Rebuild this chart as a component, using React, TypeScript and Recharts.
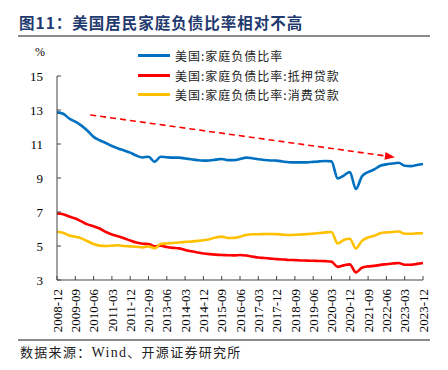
import React from 'react';
import { LineChart, Line, XAxis, YAxis, ReferenceLine } from 'recharts';

// quarterly, 2008-12 .. 2023-12
const dates = [
  '2008-12',
  '2009-03', '2009-06', '2009-09', '2009-12',
  '2010-03', '2010-06', '2010-09', '2010-12',
  '2011-03', '2011-06', '2011-09', '2011-12',
  '2012-03', '2012-06', '2012-09', '2012-12',
  '2013-03', '2013-06', '2013-09', '2013-12',
  '2014-03', '2014-06', '2014-09', '2014-12',
  '2015-03', '2015-06', '2015-09', '2015-12',
  '2016-03', '2016-06', '2016-09', '2016-12',
  '2017-03', '2017-06', '2017-09', '2017-12',
  '2018-03', '2018-06', '2018-09', '2018-12',
  '2019-03', '2019-06', '2019-09', '2019-12',
  '2020-03', '2020-06', '2020-09', '2020-12',
  '2021-03', '2021-06', '2021-09', '2021-12',
  '2022-03', '2022-06', '2022-09', '2022-12',
  '2023-03', '2023-06', '2023-09', '2023-12',
];

const debtRatio = [
  12.86, 12.78, 12.5, 12.31, 12.08, 11.78, 11.42, 11.22, 11.06, 10.88,
  10.74, 10.62, 10.49, 10.32, 10.21, 10.25, 9.95, 10.25, 10.22, 10.2,
  10.2, 10.15, 10.1, 10.05, 10.02, 10.03, 10.08, 10.12, 10.05, 10.05,
  10.12, 10.2, 10.16, 10.1, 10.06, 10.03, 10.02, 9.97, 9.93, 9.92,
  9.92, 9.92, 9.95, 9.98, 10.0, 9.98, 8.97, 9.14, 9.35, 8.35,
  9.1, 9.35, 9.5, 9.72, 9.8, 9.85, 9.9, 9.72, 9.7, 9.76, 9.82,
];

const mortgageRatio = [
  6.92, 6.87, 6.73, 6.62, 6.45, 6.27, 6.16, 6.03, 5.83, 5.68,
  5.58, 5.46, 5.32, 5.2, 5.13, 5.12, 4.98, 5.02, 4.94, 4.89,
  4.86, 4.77, 4.69, 4.62, 4.56, 4.52, 4.49, 4.47, 4.46, 4.45,
  4.47, 4.44, 4.38, 4.32, 4.29, 4.26, 4.23, 4.21, 4.18, 4.17,
  4.15, 4.14, 4.13, 4.12, 4.11, 4.08, 3.77, 3.86, 3.92, 3.45,
  3.72, 3.8, 3.83, 3.89, 3.93, 3.97, 4.0, 3.9, 3.9, 3.95, 4.0,
];

const consumerRatio = [
  5.84, 5.78, 5.62, 5.55, 5.45, 5.28, 5.12, 5.02, 5.0, 5.02,
  5.04, 5.0, 4.98, 4.96, 4.92, 4.98, 4.87, 5.12, 5.15, 5.18,
  5.21, 5.24, 5.26, 5.3, 5.34, 5.4, 5.5, 5.55, 5.47, 5.48,
  5.55, 5.65, 5.69, 5.69, 5.7, 5.71, 5.7, 5.67, 5.65, 5.66,
  5.68, 5.7, 5.73, 5.76, 5.8, 5.82, 5.15, 5.35, 5.43, 4.85,
  5.3, 5.5, 5.6, 5.75, 5.8, 5.82, 5.85, 5.72, 5.72, 5.74, 5.75,
];

const yTicks = [3, 5, 7, 9, 11, 13, 15];

// dashed trend arrow, in data units (quarter index, %)
const trendStart = { i: 5.45, v: 12.71 };
const trendEnd = { i: 55.4, v: 10.22 };

const SERIES = [
  { key: 'debt', name: '美国:家庭负债比率', color: '#0070C0' },
  { key: 'mortgage', name: '美国:家庭负债比率:抵押贷款', color: '#FF0000' },
  { key: 'consumer', name: '美国:家庭负债比率:消费贷款', color: '#FFC000' },
];

const data = dates.map((d, i) => ({
  i,
  date: d,
  debt: debtRatio[i],
  mortgage: mortgageRatio[i],
  consumer: consumerRatio[i],
}));

const xTicks = dates.map((_, i) => i).filter((i) => i % 3 === 0);

const SERIF = '"Liberation Serif", "Times New Roman", serif';
const CJK = '"Noto Sans CJK SC", sans-serif';

function XTick({ x, y, payload }: any) {
  const ty = y + 9;
  return (
    <g>
      <line x1={x} y1={y} x2={x} y2={y - 4} stroke="#444" />
      <text
        x={x}
        y={ty}
        dy="0.36em"
        transform={`rotate(-90 ${x} ${ty})`}
        textAnchor="end"
        fontFamily={SERIF}
        fontSize={13}
        fill="#000"
      >
        {dates[payload.value]}
      </text>
    </g>
  );
}

function YTick({ x, y, payload }: any) {
  return (
    <g>
      <line x1={x} y1={y} x2={x + 4} y2={y} stroke="#444" />
      <text x={x - 14} y={y} dy="0.36em" textAnchor="end" fontFamily={SERIF} fontSize={13} fill="#000">
        {payload.value}
      </text>
    </g>
  );
}

function TrendArrow({ x1, y1, x2, y2 }: any) {
  const dx = x2 - x1;
  const dy = y2 - y1;
  const len = Math.sqrt(dx * dx + dy * dy);
  const ux = dx / len;
  const uy = dy / len;
  const head = 10;
  const half = 4;
  const bx = x2 - ux * head;
  const by = y2 - uy * head;
  const pts = `${x2},${y2} ${bx - uy * half},${by + ux * half} ${bx + uy * half},${by - ux * half}`;
  return (
    <g>
      <line x1={x1} y1={y1} x2={bx} y2={by} stroke="#FF0000" strokeWidth={1.6} strokeDasharray="6 4" />
      <polygon points={pts} fill="#FF0000" />
    </g>
  );
}

export default function App() {
  return (
    <div style={{ position: 'relative', width: 448, height: 370, background: '#fff', overflow: 'hidden' }}>
      <style>{'body{margin:0}'}</style>

      {/* title */}
      <div
        style={{
          position: 'absolute', left: 19, top: 12, fontFamily: CJK, fontWeight: 700,
          fontSize: 15.5, color: '#1F3A6E', letterSpacing: 1, lineHeight: '20px', whiteSpace: 'nowrap',
        }}
      >
        图11：美国居民家庭负债比率相对不高
      </div>
      <div style={{ position: 'absolute', left: 18, top: 35, width: 412, height: 2, background: '#8c8c8c' }} />

      <div style={{ position: 'absolute', left: 35, top: 45, fontFamily: SERIF, fontSize: 12 }}>%</div>

      {/* legend */}
      <div style={{ position: 'absolute', left: 138, top: 46 }}>
        {SERIES.map((s) => (
          <div key={s.key} style={{ display: 'flex', alignItems: 'center', height: 19.5 }}>
            <div style={{ width: 32, height: 3, background: s.color, marginRight: 5 }} />
            <span style={{ fontFamily: CJK, fontSize: 12, color: '#222', letterSpacing: 1, whiteSpace: 'nowrap' }}>
              {s.name}
            </span>
          </div>
        ))}
      </div>

      <div style={{ position: 'absolute', left: 0, top: 0 }}>
        <LineChart width={448} height={370} data={data} margin={{ top: 76, right: 25, bottom: 30, left: 0 }}>
          <XAxis
            dataKey="i"
            type="number"
            domain={[0, dates.length - 1]}
            ticks={xTicks}
            interval={0}
            height={60}
            tickSize={0}
            tickMargin={0}
            tickLine={false}
            axisLine={{ stroke: '#444' }}
            tick={<XTick />}
          />
          <YAxis
            domain={[3, 15]}
            ticks={yTicks}
            interval={0}
            width={57}
            tickSize={0}
            tickMargin={0}
            tickLine={false}
            axisLine={{ stroke: '#444' }}
            tick={<YTick />}
          />
          {SERIES.map((s) => (
            <Line
              key={s.key}
              dataKey={s.key}
              name={s.name}
              type="monotone"
              stroke={s.color}
              strokeWidth={2.6}
              dot={false}
              isAnimationActive={false}
            />
          ))}
          <ReferenceLine
            segment={[
              { x: trendStart.i, y: trendStart.v },
              { x: trendEnd.i, y: trendEnd.v },
            ]}
            shape={(p: any) => <TrendArrow {...p} />}
          />
        </LineChart>
      </div>

      {/* footer */}
      <div style={{ position: 'absolute', left: 18, top: 339, width: 412, height: 1.5, background: '#8c8c8c' }} />
      <div
        style={{
          position: 'absolute', left: 20, top: 344, fontFamily: CJK, fontSize: 13,
          color: '#222', letterSpacing: 1.3, whiteSpace: 'nowrap', lineHeight: '16px',
        }}
      >
        数据来源：<span style={{ fontFamily: SERIF, fontSize: 14 }}>Wind</span>、开源证券研究所
      </div>
    </div>
  );
}
